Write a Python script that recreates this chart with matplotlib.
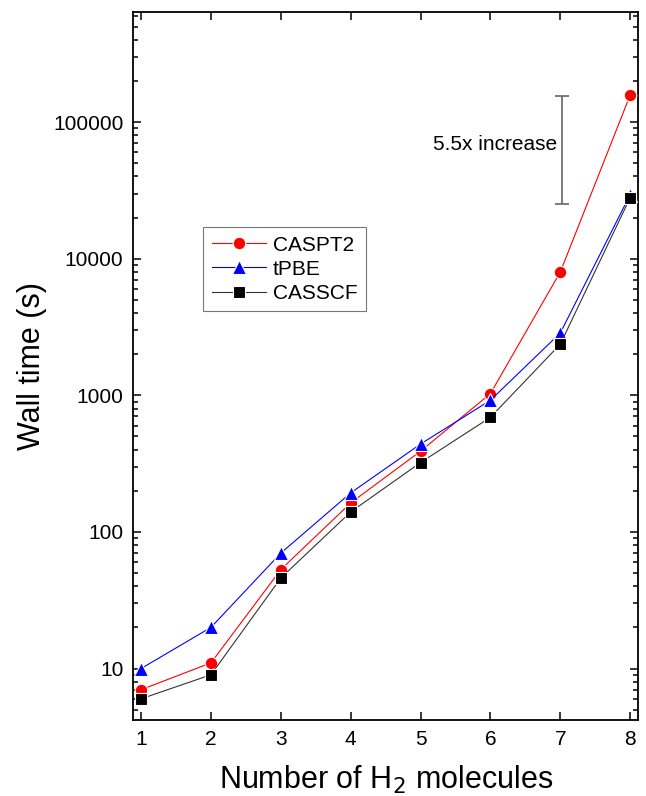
import numpy as np
import matplotlib
matplotlib.use("Agg")
import matplotlib.pyplot as plt
from matplotlib.ticker import LogLocator, FuncFormatter, NullFormatter

plt.rcParams['font.family'] = ['Liberation Sans', 'DejaVu Sans']

# number of H2 molecules
n_h2 = [1, 2, 3, 4, 5, 6, 7, 8]

# wall times in seconds
caspt2 = [7, 11, 53, 163, 390, 1030, 8000, 158000]
tpbe = [10, 20, 70, 193, 440, 920, 2860, 29500]
casscf = [6, 9, 46, 140, 322, 690, 2370, 28000]

# the "5.5x increase" bar
bar_x = 7.03
bar_lo = 25000
bar_hi = 155000

fig = plt.figure(figsize=(6.46, 7.96), dpi=100)
ax = fig.add_axes([0.206, 0.0955, 0.782, 0.8895])

ax.plot(n_h2, caspt2, color='red', lw=0.8, marker='o', ms=9,
        mfc='red', mec='white', mew=0.8, label='CASPT2', zorder=3)
ax.plot(n_h2, tpbe, color='blue', lw=0.8, marker='^', ms=10,
        mfc='blue', mec='white', mew=0.8, label='tPBE', zorder=3)
ax.plot(n_h2, casscf, color='#333333', lw=0.8, marker='s', ms=8,
        mfc='black', mec='white', mew=0.8, label='CASSCF', zorder=3)

# annotation bar
mid = np.sqrt(bar_lo * bar_hi)
ax.errorbar([bar_x], [mid], yerr=[[mid - bar_lo], [bar_hi - mid]],
            fmt='none', ecolor='#666666', elinewidth=1.2, capsize=5, capthick=1.2)
ax.text(6.96, 68000, '5.5x increase', ha='right', va='center', fontsize=15)

ax.set_yscale('log')
ax.set_xlim(0.885, 8.115)
ax.set_ylim(4.2, 6.4e5)
ax.set_xticks(n_h2)

ax.yaxis.set_major_locator(LogLocator(base=10, numticks=10))
ax.yaxis.set_minor_locator(LogLocator(base=10, subs=np.arange(2, 10), numticks=20))
ax.yaxis.set_major_formatter(FuncFormatter(lambda v, p: '%d' % round(v)))
ax.yaxis.set_minor_formatter(NullFormatter())

ax.tick_params(which='both', direction='in', top=True, right=True, width=1.1)
ax.tick_params(which='major', length=6, labelsize=15, pad=7)
ax.tick_params(which='minor', length=3.5)
ax.tick_params(axis='x', which='minor', top=False, bottom=False)
for sp in ax.spines.values():
    sp.set_linewidth(1.3)

ax.set_xlabel('Number of H$_2$ molecules', fontsize=22, labelpad=11)
ax.set_ylabel('Wall time (s)', fontsize=22, labelpad=4)

leg = ax.legend(loc='upper left', bbox_to_anchor=(0.139, 0.696), borderaxespad=0,
                fontsize=15, frameon=True, fancybox=False, edgecolor='#555555',
                handlelength=2.6, handletextpad=0.35, borderpad=0.4, labelspacing=0.25)
leg.get_frame().set_linewidth(0.8)

fig.savefig('out.png', dpi=100)
